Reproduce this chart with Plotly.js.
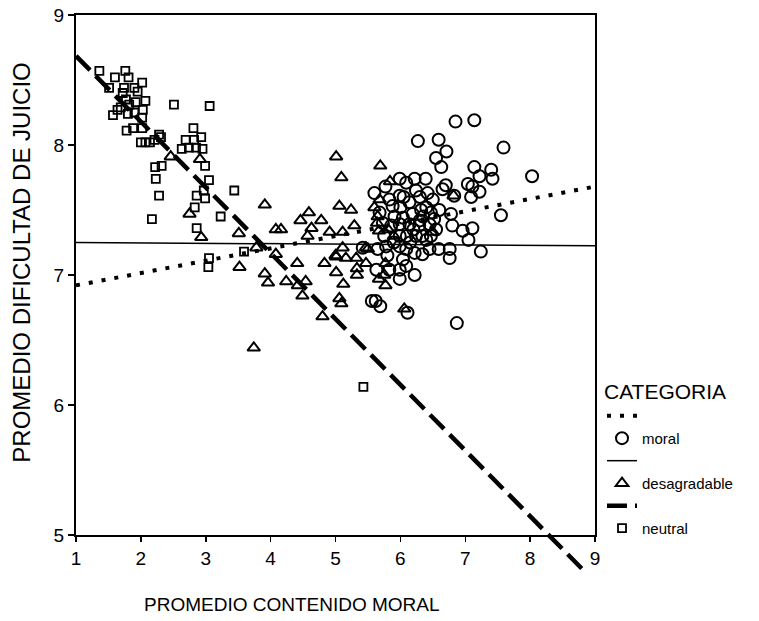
<!DOCTYPE html>
<html>
<head>
<meta charset="utf-8">
<script src="https://cdn.plot.ly/plotly-3.0.1.min.js"></script>
<style>html,body{margin:0;padding:0;background:#fff;}#chart{width:759px;height:621px;}</style>
</head>
<body>
<div id="chart"></div>
<script>
// ---- data ----
var moralX = [6.85,7.14,6.27,6.59,6.71,6.55,6.63,7.59,7.14,7.22,7.40,7.42,8.03,7.04,7.11,7.22,7.09,7.55,6.78,6.80,6.96,7.11,7.05,7.24,6.76,6.59,6.76,6.87,5.77,5.99,6.09,6.22,6.39,6.70,6.65,6.83,6.24,6.42,6.50,5.99,6.14,5.68,5.88,5.91,6.04,6.19,6.32,6.47,5.73,5.86,5.99,6.14,6.29,6.45,6.52,5.75,5.99,6.34,6.47,5.99,6.09,6.22,6.34,5.78,5.65,5.42,6.04,5.99,6.09,6.22,5.99,5.83,5.63,5.56,5.62,5.69,6.11,5.60,5.83,6.40,6.24,6.10,6.20,6.30,6.40,6.00,5.90,6.15,6.35,6.55,6.60,6.30,6.05,5.80,6.45];
var moralY = [8.18,8.19,8.03,8.04,7.95,7.90,7.83,7.98,7.83,7.76,7.81,7.74,7.76,7.70,7.68,7.64,7.60,7.46,7.47,7.38,7.34,7.36,7.27,7.18,7.20,7.20,7.13,6.63,7.68,7.74,7.71,7.74,7.74,7.69,7.66,7.61,7.65,7.63,7.58,7.61,7.56,7.48,7.53,7.45,7.44,7.47,7.50,7.48,7.40,7.38,7.39,7.39,7.38,7.39,7.43,7.30,7.30,7.30,7.30,7.22,7.20,7.17,7.16,7.22,7.20,7.21,7.12,7.04,7.07,7.00,6.97,7.04,7.04,6.80,6.80,6.76,6.71,7.63,7.58,7.27,7.30,7.30,7.35,7.42,7.52,7.52,7.25,7.25,7.45,7.35,7.50,7.60,7.60,7.15,7.20];

var desagX = [2.46,2.91,2.75,2.93,3.51,3.91,3.78,4.08,4.16,3.52,3.74,3.91,3.96,4.59,4.46,4.78,4.63,4.57,4.91,5.06,5.24,5.29,5.11,4.41,4.24,4.42,4.54,4.49,4.80,4.83,5.01,5.16,5.01,5.12,5.06,5.09,5.32,5.33,5.33,5.47,5.50,5.11,5.68,5.67,5.67,5.77,5.01,5.69,5.09,5.84,6.82,5.64,5.81,6.50,5.00,5.77,5.75,6.06,5.47,5.65,5.90,5.60,4.08];
var desagY = [7.91,7.89,7.47,7.29,7.32,7.54,7.21,7.35,7.35,7.06,6.44,7.01,6.94,7.48,7.42,7.42,7.36,7.30,7.33,7.53,7.50,7.38,7.33,7.09,6.95,6.92,6.95,6.84,6.68,7.09,7.14,7.13,7.02,6.93,6.82,6.78,7.13,7.05,7.00,7.09,7.20,7.21,7.58,7.34,6.97,6.92,7.91,7.84,7.75,7.72,7.61,7.40,7.35,7.33,7.15,7.09,7.00,6.74,7.21,7.45,7.30,7.52,7.16];

var neutralX = [1.36,1.60,1.76,1.81,1.51,1.74,1.90,2.02,1.95,1.72,1.77,1.92,2.07,1.82,2.03,1.64,1.69,1.57,1.80,1.90,2.02,2.51,1.78,1.88,2.02,2.00,2.07,2.14,2.21,2.28,2.31,2.81,2.93,2.69,2.82,2.63,2.74,2.85,2.95,2.22,2.32,3.06,2.99,2.23,2.28,3.05,2.86,2.99,2.97,3.44,2.83,3.23,2.17,2.86,3.05,3.59,3.04,5.43];
var neutralY = [8.57,8.52,8.57,8.52,8.44,8.44,8.44,8.48,8.41,8.40,8.35,8.33,8.34,8.31,8.27,8.27,8.29,8.23,8.24,8.25,8.21,8.31,8.11,8.13,8.13,8.02,8.02,8.02,8.04,8.08,8.06,8.13,8.06,8.04,8.04,7.97,7.98,7.98,7.97,7.83,7.84,8.30,7.84,7.74,7.61,7.73,7.61,7.59,7.65,7.65,7.52,7.45,7.43,7.36,7.13,7.18,7.06,6.14];

// fit lines (end points)
var moralFitX = [1, 9];
var moralFitY = [6.92, 7.68];
var desagFitX = [1, 9];
var desagFitY = [7.25, 7.225];
var neutralFitX = [1, 8.8];
var neutralFitY = [8.685, 4.74];

var xTicks = [1,2,3,4,5,6,7,8,9];
var yTicks = [5,6,7,8,9];

var categories = ['moral', 'desagradable', 'neutral'];

// ---- chart ----
var font = 'Liberation Sans, Arial, sans-serif';

var traces = [
  {x: moralFitX, y: moralFitY, mode: 'lines', name: ' ', line: {color: '#000', width: 4, dash: '4px,9px'}, hoverinfo: 'skip'},
  {x: moralX, y: moralY, mode: 'markers', name: categories[0], marker: {symbol: 'circle-open', size: 12, color: '#000', line: {width: 2, color: '#000'}}},
  {x: desagFitX, y: desagFitY, mode: 'lines', name: ' ', line: {color: '#000', width: 1.5}, hoverinfo: 'skip'},
  {x: desagX, y: desagY, mode: 'markers', name: categories[1], marker: {symbol: 'triangle-up-open', size: 11, color: '#000', line: {width: 2, color: '#000'}}},
  {x: neutralFitX, y: neutralFitY, mode: 'lines', name: ' ', xaxis: 'x2', yaxis: 'y2', line: {color: '#000', width: 4.5, dash: '20px,8px'}, hoverinfo: 'skip'},
  {x: neutralX, y: neutralY, mode: 'markers', name: categories[2], marker: {symbol: 'square-open', size: 8, color: '#000', line: {width: 1.8, color: '#000'}}}
];

var layout = {
  width: 759, height: 621,
  margin: {l: 76, r: 164, t: 15, b: 30},
  paper_bgcolor: '#fff', plot_bgcolor: 'rgba(0,0,0,0)',
  showlegend: true,
  xaxis: {
    domain: [0, 1], anchor: 'y',
    range: [1, 9], tickvals: xTicks, ticktext: xTicks.map(String),
    showgrid: false, zeroline: false, showline: true, linecolor: '#000', linewidth: 2, mirror: true,
    ticks: 'outside', ticklen: 5, tickwidth: 1.5, tickcolor: '#000',
    tickfont: {family: font, size: 19, color: '#000'}, fixedrange: true
  },
  yaxis: {
    domain: [0.09722, 1], anchor: 'x', range: [5, 9], tickvals: yTicks, ticktext: yTicks.map(String),
    showgrid: false, zeroline: false, showline: true, linecolor: '#000', linewidth: 2, mirror: true,
    ticks: 'outside', ticklen: 6, tickwidth: 1.5, tickcolor: '#000',
    tickfont: {family: font, size: 19, color: '#000'}, fixedrange: true
  },
  xaxis2: {
    domain: [0, 1], anchor: 'y2', range: [1, 9], visible: false,
    showgrid: false, zeroline: false, fixedrange: true
  },
  yaxis2: {
    domain: [0.006944, 1], anchor: 'x2', range: [4.6, 9], visible: false,
    showgrid: false, zeroline: false, fixedrange: true
  },
  legend: {
    x: 1.0135, xanchor: 'left', y: 0.38, yanchor: 'top',
    bgcolor: 'rgba(0,0,0,0)', borderwidth: 0,
    title: {text: 'CATEGORIA', font: {family: font, size: 21, color: '#000'}},
    font: {family: font, size: 15, color: '#000'},
    tracegroupgap: 0
  },
  annotations: [
    {text: 'PROMEDIO CONTENIDO MORAL', xref: 'paper', yref: 'paper', x: 0.416, y: -0.0226,
     xanchor: 'center', yanchor: 'middle', showarrow: false,
     font: {family: font, size: 19, color: '#000'}},
    {text: 'PROMEDIO DIFICULTAD DE JUICIO', xref: 'paper', yref: 'paper', x: -0.104, y: 0.57,
     xanchor: 'center', yanchor: 'middle', textangle: -90, showarrow: false,
     font: {family: font, size: 24, color: '#000'}}
  ]
};

Plotly.newPlot('chart', traces, layout, {staticPlot: true, displayModeBar: false});
</script>
</body>
</html>
